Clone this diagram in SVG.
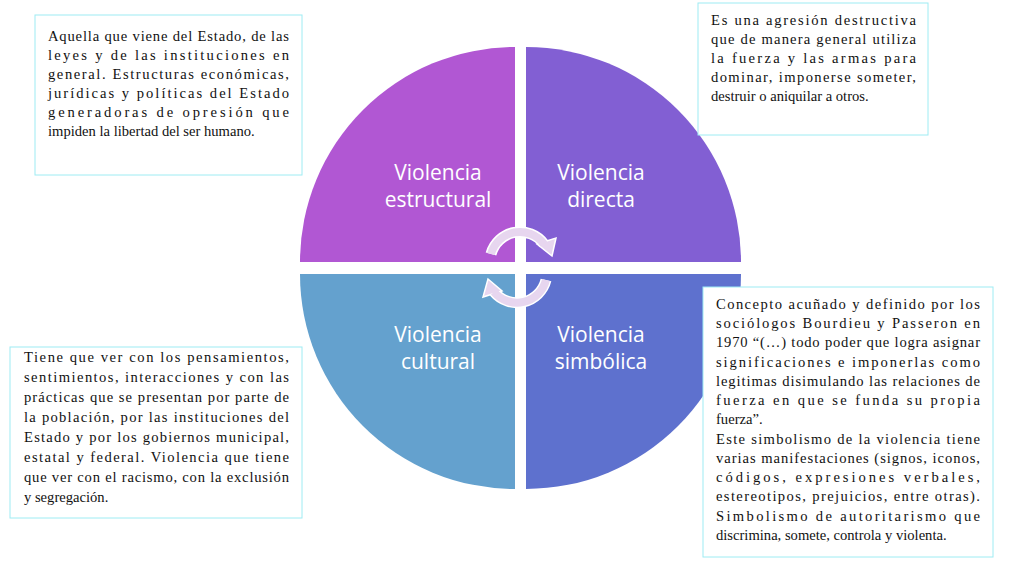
<svg xmlns="http://www.w3.org/2000/svg" width="1016" height="571" viewBox="0 0 1016 571">
<style>
.box{fill:#fff;stroke:#9EECF3;stroke-width:1}
.t{font-family:"Liberation Serif",serif;font-size:14.6px;fill:#111}
.lbl{font-family:"Open Sans","Liberation Sans",sans-serif;font-size:21px;fill:#fff;text-anchor:middle}
.arcw{fill:none;stroke:#fff;stroke-width:11}
.arc{fill:none;stroke:#E7D6EF;stroke-width:8}
</style>
<rect width="1016" height="571" fill="#fff"/>
<g id="q-estructural"><path d="M515,262 L300,262 A215,215 0 0 1 515,47 Z" fill="#B157D3"/>
<text class="lbl" x="438" y="180">Violencia</text><text class="lbl" x="438" y="207">estructural</text></g>
<g id="q-directa"><path d="M526,262 L526,47 A215,215 0 0 1 741,262 Z" fill="#825FD3"/>
<text class="lbl" x="601" y="180">Violencia</text><text class="lbl" x="601" y="207">directa</text></g>
<g id="q-cultural"><path d="M515,274 L515,489 A215,215 0 0 1 300,274 Z" fill="#64A1CE"/>
<text class="lbl" x="438" y="342">Violencia</text><text class="lbl" x="438" y="369">cultural</text></g>
<g id="q-simbolica"><path d="M526,274 L741,274 A215,215 0 0 1 526,489 Z" fill="#5E71CE"/>
<text class="lbl" x="601" y="342">Violencia</text><text class="lbl" x="601" y="369">simbólica</text></g>
<g id="connectors">
<path class="arcw" d="M491,254 A30,30 0 0 1 544,244"/>
<polygon points="537,244 556,238 552,256" fill="#E7D6EF" stroke="#fff" stroke-width="1.5"/>
<path class="arc" d="M491,254 A30,30 0 0 1 544,244"/>
<path class="arcw" d="M546,280 A30,30 0 0 1 494,292"/>
<polygon points="502,291 483,297 488,279" fill="#E7D6EF" stroke="#fff" stroke-width="1.5"/>
<path class="arc" d="M546,280 A30,30 0 0 1 494,292"/>
</g>
<g id="box-estructural"><rect class="box" x="35" y="15" width="267" height="160"/>
<text class="t"><tspan x="48" y="41" textLength="241" lengthAdjust="spacing">Aquella que viene del Estado, de las</tspan><tspan x="48" y="60" textLength="241" lengthAdjust="spacing">leyes y de las instituciones en</tspan><tspan x="48" y="79" textLength="241" lengthAdjust="spacing">general. Estructuras económicas,</tspan><tspan x="48" y="98" textLength="241" lengthAdjust="spacing">jurídicas y políticas del Estado</tspan><tspan x="48" y="117" textLength="241" lengthAdjust="spacing">generadoras de opresión que</tspan><tspan x="48" y="136">impiden la libertad del ser humano.</tspan></text></g>
<g id="box-directa"><rect class="box" x="698" y="3" width="230" height="132"/>
<text class="t"><tspan x="711" y="25" textLength="205" lengthAdjust="spacing">Es una agresión destructiva</tspan><tspan x="711" y="44" textLength="205" lengthAdjust="spacing">que de manera general utiliza</tspan><tspan x="711" y="63" textLength="205" lengthAdjust="spacing">la fuerza y las armas para</tspan><tspan x="711" y="82" textLength="205" lengthAdjust="spacing">dominar, imponerse someter,</tspan><tspan x="711" y="101">destruir o aniquilar a otros.</tspan></text></g>
<g id="box-cultural"><rect class="box" x="10" y="347" width="292" height="171"/>
<text class="t"><tspan x="24" y="362" textLength="265" lengthAdjust="spacing">Tiene que ver con los pensamientos,</tspan><tspan x="24" y="382" textLength="265" lengthAdjust="spacing">sentimientos, interacciones y con las</tspan><tspan x="24" y="402" textLength="265" lengthAdjust="spacing">prácticas que se presentan por parte de</tspan><tspan x="24" y="422" textLength="265" lengthAdjust="spacing">la población, por las instituciones del</tspan><tspan x="24" y="442" textLength="265" lengthAdjust="spacing">Estado y por los gobiernos municipal,</tspan><tspan x="24" y="462" textLength="265" lengthAdjust="spacing">estatal y federal. Violencia que tiene</tspan><tspan x="24" y="482" textLength="265" lengthAdjust="spacing">que ver con el racismo, con la exclusión</tspan><tspan x="24" y="502">y segregación.</tspan></text></g>
<g id="box-simbolica"><rect class="box" x="703" y="287" width="290" height="270"/>
<text class="t"><tspan x="716" y="309" textLength="264" lengthAdjust="spacing">Concepto acuñado y definido por los</tspan><tspan x="716" y="328" textLength="264" lengthAdjust="spacing">sociólogos Bourdieu y Passeron en</tspan><tspan x="716" y="347" textLength="264" lengthAdjust="spacing">1970 “(…) todo poder que logra asignar</tspan><tspan x="716" y="367" textLength="264" lengthAdjust="spacing">significaciones e imponerlas como</tspan><tspan x="716" y="386" textLength="264" lengthAdjust="spacing">legitimas disimulando las relaciones de</tspan><tspan x="716" y="405" textLength="264" lengthAdjust="spacing">fuerza en que se funda su propia</tspan><tspan x="716" y="424">fuerza”.</tspan><tspan x="716" y="444" textLength="264" lengthAdjust="spacing">Este simbolismo de la violencia tiene</tspan><tspan x="716" y="463" textLength="264" lengthAdjust="spacing">varias manifestaciones (signos, iconos,</tspan><tspan x="716" y="482" textLength="264" lengthAdjust="spacing">códigos, expresiones verbales,</tspan><tspan x="716" y="501" textLength="264" lengthAdjust="spacing">estereotipos, prejuicios, entre otras).</tspan><tspan x="716" y="521" textLength="264" lengthAdjust="spacing">Simbolismo de autoritarismo que</tspan><tspan x="716" y="540">discrimina, somete, controla y violenta.</tspan></text></g>
</svg>
